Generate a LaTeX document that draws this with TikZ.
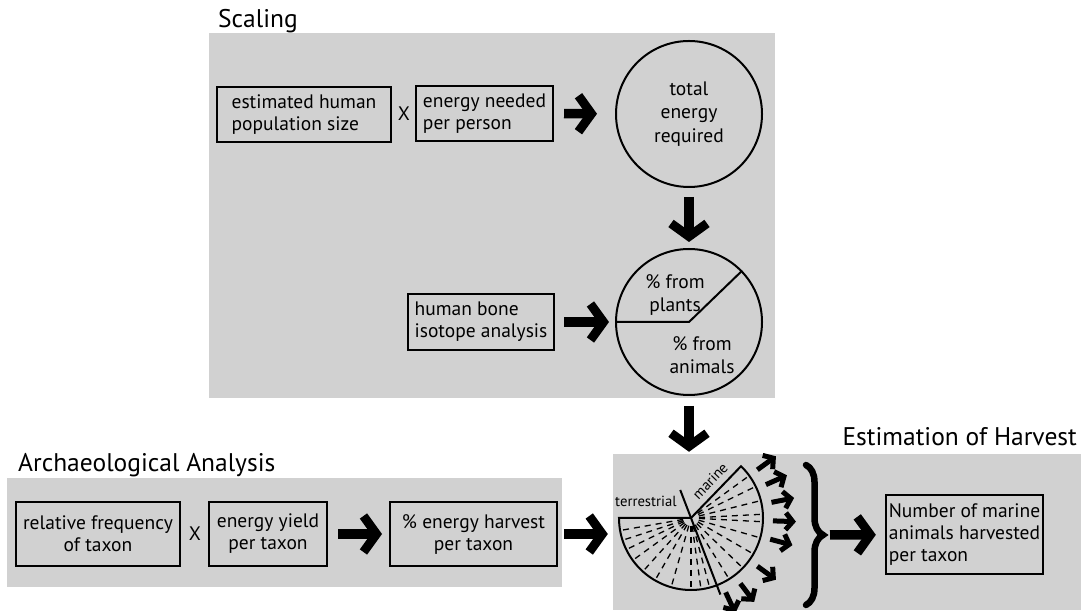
\documentclass[tikz,border=0pt]{standalone}
\usepackage{fontspec}
\setmainfont{PT Sans}
\usetikzlibrary{arrows.meta,decorations.pathreplacing,calc}
\definecolor{panelgray}{RGB}{209,209,209}
\tikzstyle{panel}=[fill=panelgray,draw=none,inner sep=0pt]
\tikzstyle{title}=[font=\fontsize{25.5}{30}\selectfont,inner sep=0pt]
\tikzstyle{box}=[draw=black,line width=2pt,inner sep=3pt,font=\fontsize{19.5}{22}\selectfont]
\tikzstyle{bubble}=[circle,draw=black,line width=2pt,inner sep=0pt,align=center,font=\fontsize{19.5}{23.5}\selectfont]
\tikzstyle{plain}=[inner sep=0pt,align=center,font=\fontsize{19.5}{23}\selectfont]
\tikzstyle{small}=[inner sep=0pt,font=\fontsize{14.7}{17}\selectfont]
\tikzstyle{bigarrow}=[line width=9.5pt,-{Straight Barb[length=13pt,width=36pt,line width=9pt]}]
\tikzstyle{tinyarrow}=[line width=5pt,-{Straight Barb[length=7pt,width=17pt,line width=5pt]}]
\tikzstyle{ray}=[dash pattern=on 6pt off 5pt,line width=1.3pt]

\begin{document}
\begin{tikzpicture}[x=1pt,y=1pt]
    \useasboundingbox (0,0) rectangle (1086,610);

    \node (scalingpanel) at (492,394.5) [panel,minimum width=566pt,minimum height=365pt] {};
    \node (archpanel)    at (284.5,77.5) [panel,minimum width=555pt,minimum height=109pt] {};
    \node (harvestpanel) at (847,78)    [panel,minimum width=468pt,minimum height=156pt] {};

    \node (scalingtitle) at (218,582)  [title,anchor=base west] {Scaling};
    \node (archtitle)    at (18,138)   [title,anchor=base west] {Archaeological Analysis};
    \node (harvesttitle) at (1077,164) [title,anchor=base east] {Estimation of Harvest};

    \node (popsize)     at (304,495.5)   [box,align=left,minimum width=174pt,minimum height=55pt] {estimated human\\population size};
    \node (times1)      at (404,496)     [plain] {X};
    \node (perperson)   at (484.5,496.5) [box,align=left,minimum width=137pt,minimum height=55pt] {energy needed\\per person};
    \node (totalenergy) at (689,496)     [bubble,minimum size=146pt] {total\\energy\\required};

    \node (isotope) at (481,288) [box,align=left,minimum width=146pt,minimum height=56pt] {human bone\\isotope analysis};
    \node (pie)     at (689,288) [bubble,minimum size=146pt] {};
    \draw (pie.west) -- (pie.center) -- (pie.44) [line width=2pt];
    \node (plants)  at (675,315) [plain] {\% from\\plants};
    \node (animals) at (702,255) [plain] {\% from\\animals};

    \node (frequency) at (98,76)    [box,align=center,minimum width=164pt,minimum height=64pt] {relative frequency\\of taxon};
    \node (times2)    at (195,76)   [plain] {X};
    \node (yield)     at (268,76)   [box,align=center,minimum width=118pt,minimum height=64pt] {energy yield\\per taxon};
    \node (harvest)   at (473.5,76) [box,align=center,minimum width=167pt,minimum height=64pt] {\% energy harvest\\per taxon};

    \coordinate (hc) at (691,92);
    \node (harvpie) at (hc) [circle,inner sep=0pt,minimum size=144pt] {};
    \foreach \a in {190,198,206,216,228,240,254,270,278,285,302,316,330,344,357,363,374,386,396}
        \draw ($(hc)+(\a:8)$) -- ($(hc)+(\a:71)$) [ray];
    \draw ($(hc)+(180:72)$) arc[start angle=180,end angle=406,radius=72] -- (hc) -- cycle [line width=2pt];
    \draw ($(hc)+(111:30)$) -- ($(hc)+(291:82)$) [line width=2pt];
    \node (terrestrial) at (615,103) [small,anchor=base west] {terrestrial};
    \node (marine)      at (710,129) [small,rotate=46] {marine};
    \foreach \a in {36,24,11,-2,-15,-36,-53,-65}
        \draw ($(hc)+(\a:82)$) -- ($(hc)+(\a:105)$) [tinyarrow];

    \draw (806,145) -- (806,5) [line width=6.5pt,line cap=round,decorate,decoration={brace,amplitude=17pt}];
    \coordinate (bracetip) at (823,75);
    \node (number) at (964.5,75.5) [box,align=left,minimum width=157pt,minimum height=79pt] {Number of marine\\animals harvested\\per taxon};

    \draw (perperson) -- (totalenergy) [bigarrow,shorten <=10pt,shorten >=18pt];
    \draw (totalenergy) -- (pie) [bigarrow,shorten <=9pt,shorten >=6pt];
    \draw (isotope) -- (pie) [bigarrow,shorten <=9pt,shorten >=6pt];
    \draw (pie.south) -- (pie.south |- harvestpanel.north) [bigarrow,shorten <=10pt,shorten >=2pt];
    \draw (yield) -- (harvest) [bigarrow,shorten <=10pt,shorten >=7pt];
    \draw (harvest.east) -- (harvest.east -| harvpie.west) [bigarrow,shorten <=6pt,shorten >=11pt];
    \draw (bracetip) -- (number) [bigarrow,shorten <=7pt,shorten >=9pt];
\end{tikzpicture}
\end{document}
